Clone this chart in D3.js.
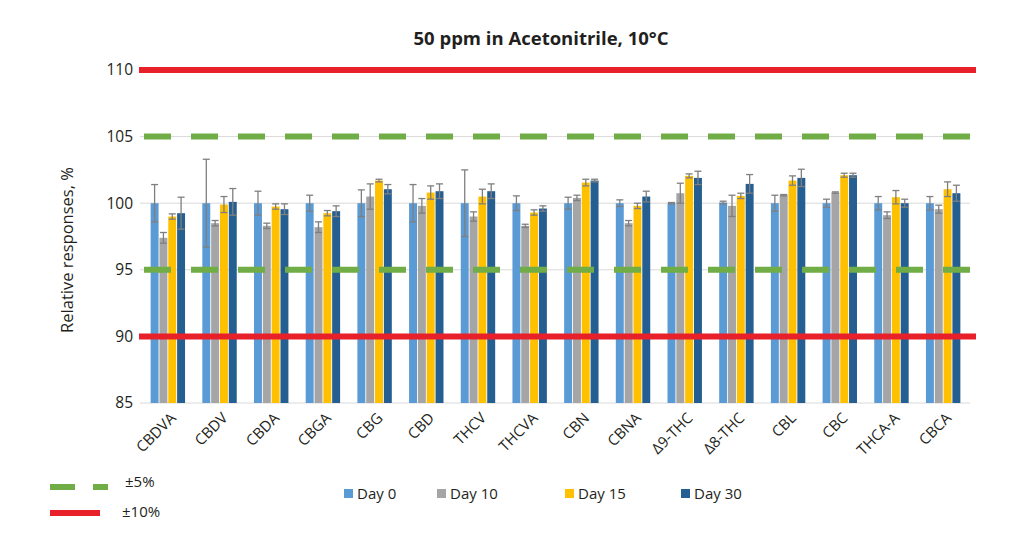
<!DOCTYPE html>
<html>
<head>
<meta charset="utf-8">
<title>50 ppm in Acetonitrile, 10°C</title>
<script src="https://d3js.org/d3.v7.min.js"></script>
<style>
  body { margin: 0; background: #fff; }
  text { font-family: "Open Sans", "Noto Sans", sans-serif; fill: #231f20; }
</style>
</head>
<body>
<script>
// data
var categories = ["CBDVA", "CBDV", "CBDA", "CBGA", "CBG", "CBD", "THCV", "THCVA",
  "CBN", "CBNA", "Δ9-THC", "Δ8-THC", "CBL", "CBC", "THCA-A", "CBCA"];
var seriesNames = ["Day 0", "Day 10", "Day 15", "Day 30"];
var seriesColors = ["#5b9bd5", "#a5a5a5", "#ffc000", "#255e91"];

var day0 = [100, 100, 100, 100, 100, 100, 100, 100, 100, 100, 100, 100.05, 100, 100, 100, 100];
var day0Err = [1.4, 3.3, 0.9, 0.6, 1.0, 1.4, 2.5, 0.55, 0.45, 0.25, 0.05, 0.1, 0.6, 0.3, 0.5, 0.5];
var day10 = [97.4, 98.5, 98.3, 98.2, 100.5, 99.8, 99.0, 98.3, 100.4, 98.5, 100.75, 99.8, 100.6, 100.8, 99.1, 99.55];
var day10Err = [0.4, 0.2, 0.2, 0.4, 0.95, 0.55, 0.35, 0.12, 0.2, 0.2, 0.75, 0.8, 0.05, 0.05, 0.25, 0.3];
var day15 = [99.0, 99.9, 99.75, 99.25, 101.7, 100.8, 100.5, 99.3, 101.55, 99.8, 102.05, 100.55, 101.7, 102.1, 100.45, 101.05];
var day15Err = [0.2, 0.6, 0.2, 0.2, 0.1, 0.5, 0.55, 0.2, 0.25, 0.2, 0.15, 0.2, 0.35, 0.15, 0.5, 0.55];
var day30 = [99.25, 100.1, 99.55, 99.4, 101.05, 100.9, 100.9, 99.6, 101.7, 100.5, 101.9, 101.45, 101.9, 102.1, 100, 100.75];
var day30Err = [1.2, 1.0, 0.4, 0.4, 0.35, 0.55, 0.55, 0.2, 0.1, 0.4, 0.5, 0.7, 0.65, 0.15, 0.3, 0.6];

var yTicks = [85, 90, 95, 100, 105, 110];
var limit5 = [95, 105];
var limit10 = [90, 110];

var values = [day0, day10, day15, day30];
var errors = [day0Err, day10Err, day15Err, day30Err];

var W = 1024, H = 549;
var svg = d3.select("body").append("svg").attr("width", W).attr("height", H);

var x = d3.scaleBand().domain(categories).range([142, 969]).paddingInner(0.3).paddingOuter(0.15);
var xi = d3.scaleBand().domain(seriesNames).range([0, x.bandwidth()]).padding(0.1);
var y = d3.scaleLinear().domain([85, 110]).range([403, 70]);

// title
svg.append("text").attr("x", 541).attr("y", 45).attr("text-anchor", "middle")
  .style("font-size", "18.5px").style("font-weight", "bold")
  .text("50 ppm in Acetonitrile, 10°C");

// gridlines
svg.append("g").selectAll("line").data(yTicks).join("line")
  .attr("x1", 140).attr("x2", 970)
  .attr("y1", function(d){ return y(d); }).attr("y2", function(d){ return y(d); })
  .attr("stroke", "#d9d9d9").attr("stroke-width", 1);

// y axis labels
var yAxis = d3.axisLeft(y).tickValues(yTicks).tickSize(0).tickPadding(0);
svg.append("g").attr("transform", "translate(133,0)").call(yAxis)
  .call(function(g){ g.select(".domain").remove(); })
  .selectAll("text").style("font-size", "15.5px").style("font-family", "\"Open Sans\", sans-serif").attr("fill", "#231f20");

svg.append("text").attr("transform", "translate(73,250) rotate(-90)")
  .attr("text-anchor", "middle").style("font-size", "16.5px")
  .text("Relative responses, %");

// bars
var groups = svg.append("g").selectAll("g").data(categories).join("g")
  .attr("transform", function(d){ return "translate(" + x(d) + ",0)"; });

seriesNames.forEach(function(s, si) {
  groups.append("rect")
    .attr("x", xi(s))
    .attr("width", xi.bandwidth())
    .attr("y", function(d, i){ return y(values[si][i]); })
    .attr("height", function(d, i){ return y(85) - y(values[si][i]); })
    .attr("fill", seriesColors[si]);
});

// error bars
seriesNames.forEach(function(s, si) {
  var cx = xi(s) + xi.bandwidth() / 2;
  groups.each(function(d, i) {
    var g = d3.select(this);
    var v = values[si][i], e = errors[si][i];
    g.append("line").attr("x1", cx).attr("x2", cx)
      .attr("y1", y(v - e)).attr("y2", y(v + e))
      .attr("stroke", "#7f7f7f").attr("stroke-width", 1.3);
    [v - e, v + e].forEach(function(t) {
      g.append("line").attr("x1", cx - 3.5).attr("x2", cx + 3.5)
        .attr("y1", y(t)).attr("y2", y(t))
        .attr("stroke", "#7f7f7f").attr("stroke-width", 1.3);
    });
  });
});

// x labels
categories.forEach(function(c) {
  svg.append("text")
    .attr("transform", "translate(" + (x(c) + x.bandwidth() / 2 + 9) + ",419) rotate(-45)")
    .attr("text-anchor", "end")
    .style("font-size", "15px")
    .text(c);
});

// limit lines
svg.append("g").selectAll("line").data(limit5).join("line")
  .attr("x1", 144).attr("x2", 975)
  .attr("y1", function(d){ return y(d); }).attr("y2", function(d){ return y(d); })
  .attr("stroke", "#70ad47").attr("stroke-width", 6).attr("stroke-dasharray", "27,20");

svg.append("g").selectAll("line").data(limit10).join("line")
  .attr("x1", 139).attr("x2", 976)
  .attr("y1", function(d){ return y(d); }).attr("y2", function(d){ return y(d); })
  .attr("stroke", "#e8202a").attr("stroke-width", 6);

// legend for days
var legX = [344, 437, 565, 681];
seriesNames.forEach(function(s, si) {
  svg.append("rect").attr("x", legX[si]).attr("y", 489).attr("width", 9).attr("height", 9)
    .attr("fill", seriesColors[si]);
  svg.append("text").attr("x", legX[si] + 13).attr("y", 499)
    .style("font-size", "15px").text(s);
});

// legend for limits
svg.append("line").attr("x1", 50).attr("x2", 108).attr("y1", 487).attr("y2", 487)
  .attr("stroke", "#70ad47").attr("stroke-width", 6).attr("stroke-dasharray", "25,18");
svg.append("text").attr("x", 125).attr("y", 487).style("font-size", "15px").text("±5%");
svg.append("line").attr("x1", 50).attr("x2", 100).attr("y1", 513).attr("y2", 513)
  .attr("stroke", "#e8202a").attr("stroke-width", 6);
svg.append("text").attr("x", 122).attr("y", 517).style("font-size", "15px").text("±10%");
</script>
</body>
</html>
